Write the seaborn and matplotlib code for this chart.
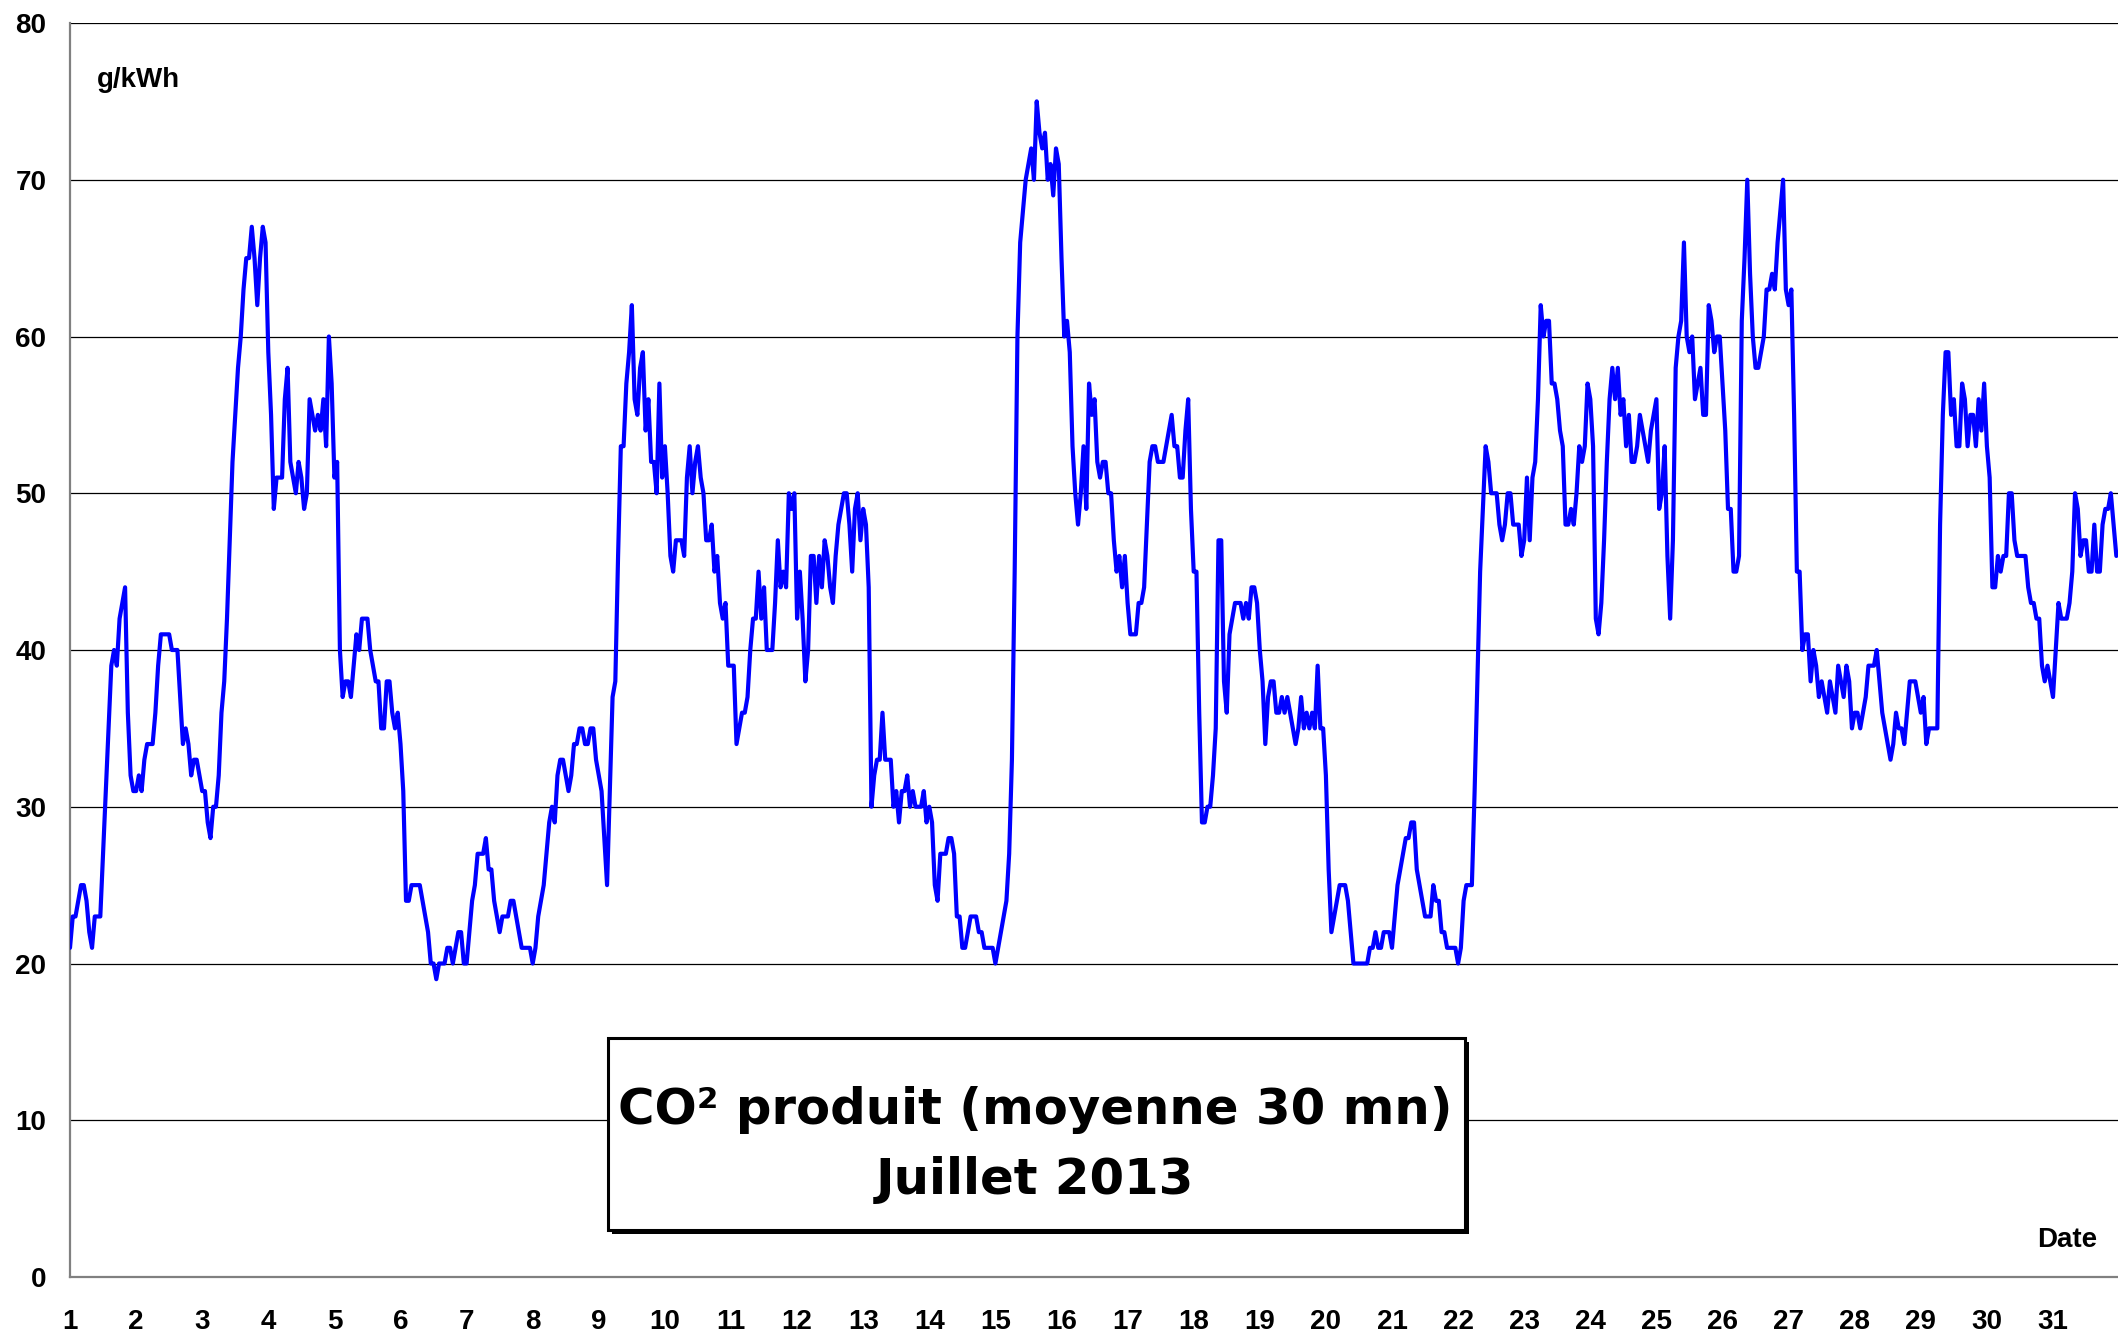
import numpy as np
import pandas as pd
import seaborn as sns
import matplotlib.pyplot as plt
from matplotlib.patches import Rectangle
from matplotlib import patheffects


# hourly readings of CO2 (g/kWh), one list per day of July 2013
d01 = [21,23,23,24,25,25,24,22,21,23,23,23,27,31,35,39,40,39,42,43,44,36,32,31]
d02 = [31,32,31,33,34,34,34,36,39,41,41,41,41,40,40,40,37,34,35,34,32,33,33,32]
d03 = [31,31,29,28,30,30,32,36,38,42,47,52,55,58,60,63,65,65,67,65,62,65,67,66]
d04 = [59,55,49,51,51,51,56,58,52,51,50,52,51,49,50,56,55,54,55,54,56,53,60,57]
d05 = [51,52,40,37,38,38,37,39,41,40,42,42,42,40,39,38,38,35,35,38,38,36,35,36]
d06 = [34,31,24,24,25,25,25,25,24,23,22,20,20,19,20,20,20,21,21,20,21,22,22,20]
d07 = [20,22,24,25,27,27,27,28,26,26,24,23,22,23,23,23,24,24,23,22,21,21,21,21]
d08 = [20,21,23,24,25,27,29,30,29,32,33,33,32,31,32,34,34,35,35,34,34,35,35,33]
d09 = [32,31,28,25,31,37,38,46,53,53,57,59,62,56,55,58,59,54,56,52,52,50,57,51]
d10 = [53,50,46,45,47,47,47,46,51,53,50,52,53,51,50,47,47,48,45,46,43,42,43,39]
d11 = [39,39,34,35,36,36,37,40,42,42,45,42,44,40,40,40,43,47,44,45,44,50,49,50]
d12 = [42,45,42,38,40,46,46,43,46,44,47,46,44,43,46,48,49,50,50,48,45,49,50,47]
d13 = [49,48,44,30,32,33,33,36,33,33,33,30,31,29,31,31,32,30,31,30,30,30,31,29]
d14 = [30,29,25,24,27,27,27,28,28,27,23,23,21,21,22,23,23,23,22,22,21,21,21,21]
d15 = [20,21,22,23,24,27,33,45,60,66,68,70,71,72,70,75,73,72,73,70,71,69,72,71]
d16 = [65,60,61,59,53,50,48,50,53,49,57,55,56,52,51,52,52,50,50,47,45,46,44,46]
d17 = [43,41,41,41,43,43,44,48,52,53,53,52,52,52,53,54,55,53,53,51,51,54,56,49]
d18 = [45,45,36,29,29,30,30,32,35,47,47,38,36,41,42,43,43,43,42,43,42,44,44,43]
d19 = [40,38,34,37,38,38,36,36,37,36,37,36,35,34,35,37,35,36,35,36,35,39,35,35]
d20 = [32,26,22,23,24,25,25,25,24,22,20,20,20,20,20,20,21,21,22,21,21,22,22,22]
d21 = [21,23,25,26,27,28,28,29,29,26,25,24,23,23,23,25,24,24,22,22,21,21,21,21]
d22 = [20,21,24,25,25,25,31,38,45,49,53,52,50,50,50,48,47,48,50,50,48,48,48,46]
d23 = [47,51,47,51,52,56,62,60,61,61,57,57,56,54,53,48,48,49,48,50,53,52,53,57]
d24 = [56,53,42,41,43,47,52,56,58,56,58,55,56,53,55,52,52,53,55,54,53,52,54,55]
d25 = [56,49,50,53,46,42,47,58,60,61,66,60,59,60,56,57,58,55,55,62,61,59,60,60]
d26 = [57,54,49,49,45,45,46,61,65,70,64,60,58,58,59,60,63,63,64,63,66,68,70,63]
d27 = [62,63,55,45,45,40,41,41,38,40,39,37,38,37,36,38,37,36,39,38,37,39,38,35]
d28 = [36,36,35,36,37,39,39,39,40,38,36,35,34,33,34,36,35,35,34,36,38,38,38,37]
d29 = [36,37,34,35,35,35,35,48,55,59,59,55,56,53,53,57,56,53,55,55,53,56,54,57]
d30 = [53,51,44,44,46,45,46,46,50,50,47,46,46,46,46,44,43,43,42,42,39,38,39,38]
d31 = [37,40,43,42,42,42,43,45,50,49,46,47,47,45,45,48,45,45,48,49,49,50,48,46]

days = [d01,d02,d03,d04,d05,d06,d07,d08,d09,d10,d11,d12,d13,d14,d15,d16,
        d17,d18,d19,d20,d21,d22,d23,d24,d25,d26,d27,d28,d29,d30,d31]

day_ticks = list(range(1, 32))
y_ticks = list(range(0, 81, 10))

title1 = 'CO² produit (moyenne 30 mn)'
title2 = 'Juillet 2013'

co2 = np.concatenate(days)
df = pd.DataFrame({'date': 1 + np.arange(len(co2)) / 24.0, 'co2': co2})


sns.set_style('white')
plt.rcParams['font.family'] = ['Liberation Sans', 'DejaVu Sans']
plt.rcParams['font.weight'] = 'bold'
plt.rcParams['text.color'] = 'black'
plt.rcParams['xtick.labelcolor'] = 'black'
plt.rcParams['ytick.labelcolor'] = 'black'

W, H = 2118, 1337
fig = plt.figure(figsize=(W / 100, H / 100), dpi=100)
ax = fig.add_axes([70 / W, 1 - 1277 / H, 2048 / W, 1254 / H])

sns.lineplot(data=df, x='date', y='co2', color='#0000FF', linewidth=3,
             ax=ax, zorder=3)

ax.set_xlim(1, 1 + 2048 / 66.1)
ax.set_ylim(0, 80)
ax.set_xlabel('')
ax.set_ylabel('')

ax.set_yticks(y_ticks)
ax.set_xticks(day_ticks)
ax.set_xticks(np.arange(1.5, 32, 1), minor=True)
ax.yaxis.grid(True, color='black', lw=0.9)
ax.xaxis.grid(False)

for s in ['top', 'right']:
    ax.spines[s].set_visible(False)
for s in ['left', 'bottom']:
    ax.spines[s].set_color('#808080')
    ax.spines[s].set_linewidth(1.6)

ax.tick_params(axis='x', which='major', direction='out', length=7, width=1.3,
               color='#808080', labelcolor='black', pad=16, labelsize=20)
ax.tick_params(axis='x', which='minor', direction='in', length=5, width=1.3,
               color='#808080')
ax.tick_params(axis='y', which='major', direction='out', length=7, width=1,
               color='#404040', labelcolor='black', pad=10, labelsize=20)
for lbl in ax.get_xticklabels() + ax.get_yticklabels():
    lbl.set_fontweight('bold')

ax.text(0.0132, 0.9545, 'g/kWh', transform=ax.transAxes, fontsize=20,
        fontweight='bold', color='black', ha='left', va='center')
ax.text(0.9897, 0.0295, 'Date', transform=ax.transAxes, fontsize=20,
        fontweight='bold', color='black', ha='right', va='center')

# title box with drop shadow
box = Rectangle((0.2627, 0.0375), 0.4185, 0.1531, transform=ax.transAxes,
                facecolor='white', edgecolor='black', lw=2.2, zorder=5)
box.set_path_effects([patheffects.SimplePatchShadow(offset=(3, -3),
                                                    shadow_rgbFace='black',
                                                    alpha=1),
                      patheffects.Normal()])
ax.add_patch(box)

t1 = ax.text(0.4712, 0.1330, title1, transform=ax.transAxes, color='black',
             family='DejaVu Sans', fontweight='bold', fontsize=30,
             ha='center', va='center', zorder=6)
t2 = ax.text(0.4712, 0.0770, title2, transform=ax.transAxes, color='black',
             family='DejaVu Sans', fontweight='bold', fontsize=30,
             ha='center', va='center', zorder=6)

# scale the title so the first line spans the box like in the original
fig.canvas.draw()
w = t1.get_window_extent(fig.canvas.get_renderer()).width
size = 30 * 834 / w
t1.set_fontsize(size)
t2.set_fontsize(size)

fig.savefig('out.png', dpi=100)
